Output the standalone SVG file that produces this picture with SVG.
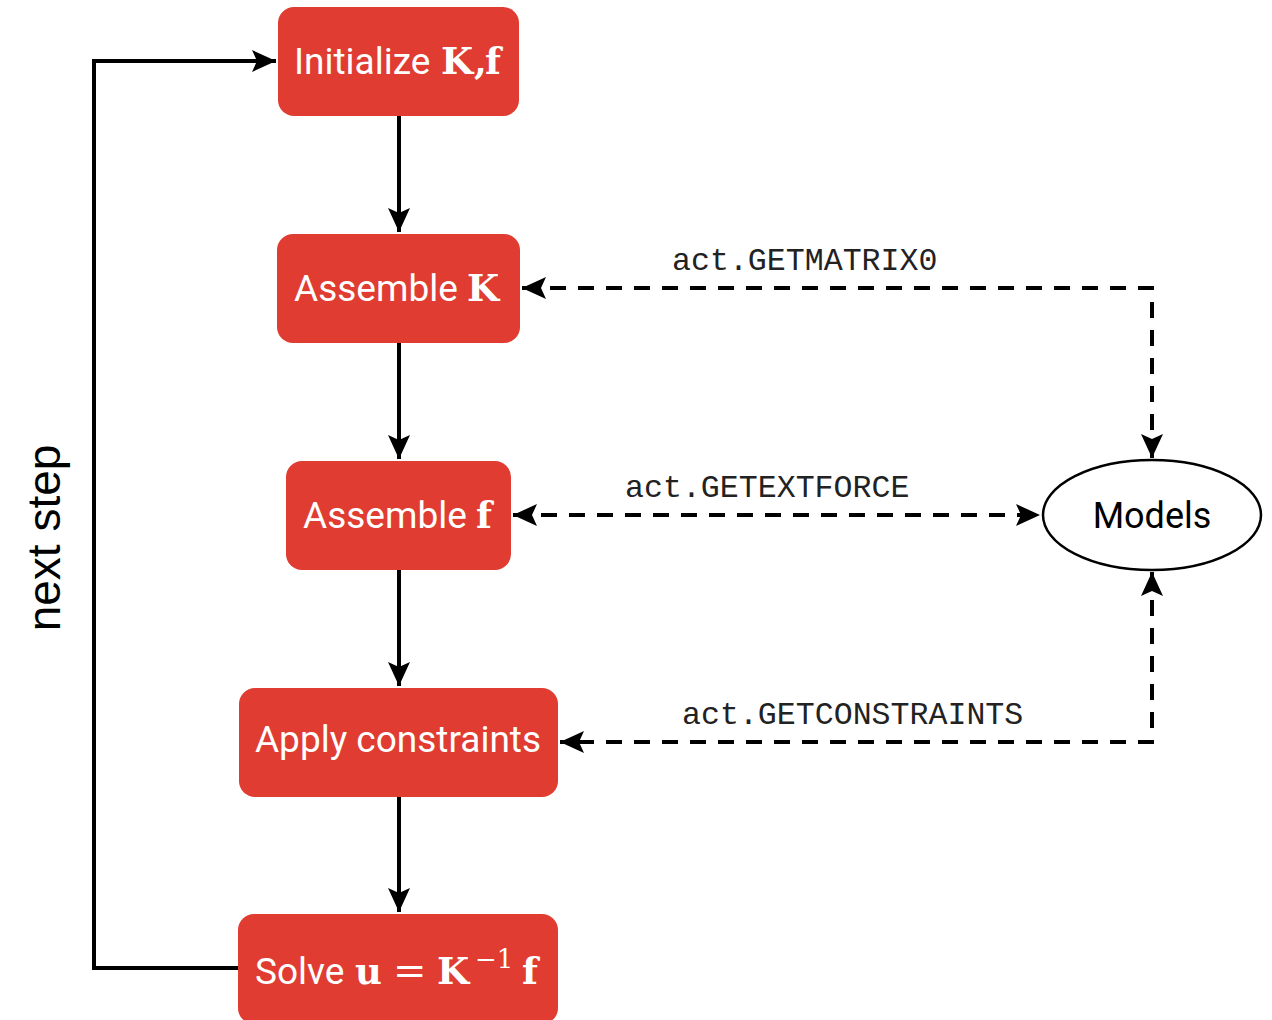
<svg xmlns="http://www.w3.org/2000/svg" width="1272" height="1020" viewBox="0 0 1272 1020">
<style>
.box{fill:#E03C31;}
.lbl{font-family:Roboto,"Liberation Sans",sans-serif;font-size:37px;fill:#fff;}
.m{font-family:"DejaVu Serif","Liberation Serif",serif;font-weight:bold;font-size:37px;}
.r{font-family:"DejaVu Serif","Liberation Serif",serif;}
.solid{fill:none;stroke:#000;stroke-width:4;}
.dash{fill:none;stroke:#000;stroke-width:4;stroke-dasharray:16 12;}
.code{font-family:"Liberation Mono","Courier New",monospace;font-size:31.6px;fill:#222;}
</style>
<defs>
<marker id="a" viewBox="0 0 24 24" refX="24" refY="12" markerWidth="24" markerHeight="24" orient="auto-start-reverse" markerUnits="userSpaceOnUse">
<path d="M0,1 L24,12 L0,23 L5,12 Z" fill="#000"/>
</marker>
</defs>
<g id="connectors">
<path class="solid" d="M399,116 V232" marker-end="url(#a)"/>
<path class="solid" d="M399,343 V459" marker-end="url(#a)"/>
<path class="solid" d="M399,570 V686" marker-end="url(#a)"/>
<path class="solid" d="M399,797 V912" marker-end="url(#a)"/>
<path class="solid" d="M238,968 H94 V61 H276" marker-end="url(#a)"/>
<path class="dash" d="M1152,458 V288 H522" marker-start="url(#a)" marker-end="url(#a)"/>
<path class="dash" d="M513,515 H1040" marker-start="url(#a)" marker-end="url(#a)"/>
<path class="dash" d="M1152,572 V742 H560" marker-start="url(#a)" marker-end="url(#a)"/>
<text class="code" x="672" y="270">act.GETMATRIX0</text>
<text class="code" x="625" y="497">act.GETEXTFORCE</text>
<text class="code" x="682" y="724">act.GETCONSTRAINTS</text>
</g>
<g id="n-init">
<rect class="box" x="278" y="7" width="241" height="109" rx="16"/>
<text class="lbl" x="294" y="74">Initialize<tspan class="m" x="441">K</tspan><tspan class="m" x="474">,</tspan><tspan class="m" x="485">f</tspan></text>
</g>
<g id="n-assembleK">
<rect class="box" x="277" y="234" width="243" height="109" rx="16"/>
<text class="lbl" x="294" y="301">Assemble<tspan class="m" x="467">K</tspan></text>
</g>
<g id="n-assemblef">
<rect class="box" x="286" y="461" width="225" height="109" rx="16"/>
<text class="lbl" x="303" y="528">Assemble<tspan class="m" x="476">f</tspan></text>
</g>
<g id="n-apply">
<rect class="box" x="239" y="688" width="319" height="109" rx="16"/>
<text class="lbl" x="398" y="752" text-anchor="middle">Apply constraints</text>
</g>
<g id="n-solve">
<rect class="box" x="238" y="914" width="320" height="110" rx="16"/>
<text class="lbl" x="255" y="984">Solve<tspan class="m" x="355">u</tspan><tspan class="r" x="393" font-size="40">=</tspan><tspan class="m" x="437">K</tspan><tspan class="r" x="475" y="968" font-size="26">−1</tspan><tspan class="m" x="522" y="984">f</tspan></text>
</g>
<g id="n-models">
<ellipse cx="1152" cy="515" rx="109" ry="55" fill="#fff" stroke="#000" stroke-width="2.5"/>
<text x="1152" y="528" font-family="Roboto,'Liberation Sans',sans-serif" font-size="36" text-anchor="middle" fill="#000">Models</text>
</g>
<g id="side-label">
<text transform="translate(60,538) rotate(-90)" font-family="'Liberation Sans',Arial,sans-serif" font-size="46" text-anchor="middle" fill="#000">next step</text>
</g>
</svg>
